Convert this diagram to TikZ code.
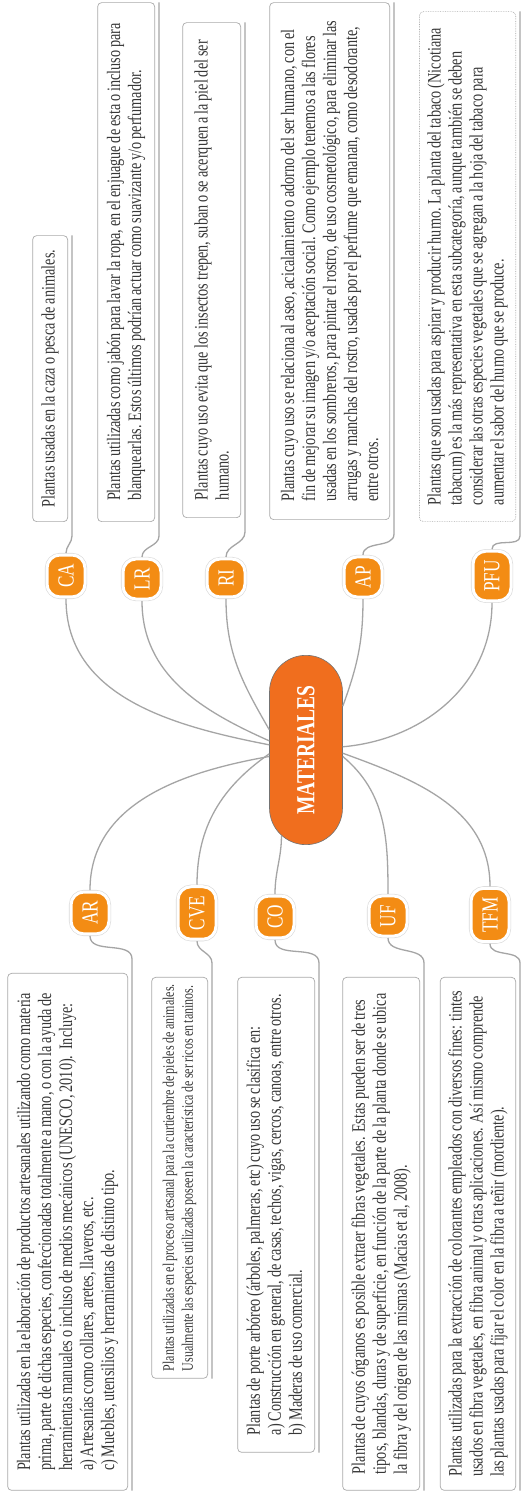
\documentclass[tikz,border=0pt]{standalone}
\usepackage{fontspec}
\setmainfont[FakeStretch=0.75, WordSpace=0.8]{Liberation Serif}
\usepackage{xcolor}
\definecolor{linkgray}{RGB}{165,165,165}
\definecolor{boxgray}{RGB}{170,170,170}
\definecolor{inkgray}{RGB}{55,55,55}
\definecolor{hubor}{RGB}{240,110,30}
\definecolor{tagor}{RGB}{243,140,20}
\usepackage{tikz}
\usetikzlibrary{positioning,shapes.misc}

\begin{document}
\begin{tikzpicture}[x=1pt, y=1pt]
        \tikzset{
          hub/.style={rounded rectangle, fill=hubor, draw=black!55, line width=0.6pt,
                      minimum width=196pt, minimum height=73pt, text=white,
                      font=\fontsize{26}{26}\selectfont\bfseries},
          tag/.style={rectangle, rounded corners=13pt, fill=tagor, draw=white, line width=3pt,
                      preaction={draw=black!15, line width=4.2pt},
                      minimum width=38pt, minimum height=38pt, inner xsep=9pt, inner ysep=5pt,
                      outer sep=2pt, text=white, font=\fontsize{23}{23}\selectfont},
          desc/.style={rectangle, rounded corners=4pt, draw=boxgray, fill=white, line width=0.7pt,
                       inner xsep=7pt, inner ysep=8pt, align=left, text=inkgray,
                       font=\fontsize{19}{21}\selectfont},
          link/.style={draw=linkgray, line width=1.3pt}
        }
        \begin{scope}[rotate=90, transform shape]
        \fill[white] (0,0) rectangle (1492,-522);
        \useasboundingbox (0,0) rectangle (1492,-522);
        % Central topic
        \node[hub] (M) at (742,-306) {MATERIALES};
        % Right branches
        \node[tag] (CA) at (916,-66) {CA};
        \node[tag] (LR) at (913,-142) {LR};
        \node[tag] (RI) at (914,-226) {RI};
        \node[tag] (AP) at (915,-363) {AP};
        \node[tag] (PFU) at (916,-492) {PFU};
        % Left branches
        \node[tag] (AR) at (579,-90) {AR};
        \node[tag] (CVE) at (579,-197) {CVE};
        \node[tag] (CO) at (575,-275) {CO};
        \node[tag] (UF) at (576,-388) {UF};
        \node[tag] (TFM) at (577,-490) {TFM};
        % Descriptions, right
        \node[desc, minimum width=286pt, minimum height=35pt, anchor=south west] (dCA) at (970,-68)
          {Plantas usadas en la caza o pesca de animales.};
        \node[desc, minimum width=519pt, minimum height=57pt, anchor=south west] (dLR) at (970,-155)
          {Plantas utilizadas como jabón para lavar la ropa, en el enjuague de esta o incluso para\\
           blanquearlas. Estos últimos podrían actuar como suavizante y/o perfumador.};
        \node[desc, minimum width=495pt, minimum height=58pt, anchor=south west] (dRI) at (974,-241)
          {Plantas cuyo uso evita que los insectos trepen, suban o se acerquen a la piel del ser\\
           humano.};
        \node[desc, minimum width=517pt, minimum height=120pt, anchor=south west] (dAP) at (972,-390)
          {Plantas cuyo uso se relaciona al aseo, acicalamiento o adorno del ser humano, con el\\
           fin de mejorar su imagen y/o aceptación social. Como ejemplo tenemos a las flores\\
           usadas en los sombreros, para pintar el rostro, de uso cosmetológico, para eliminar las\\
           arrugas y manchas del rostro, usadas por el perfume que emanan, como desodorante,\\
           entre otros.};
        \node[desc, densely dotted, minimum width=510pt, minimum height=96pt, anchor=south west] (dPFU) at (970,-516)
          {Plantas que son usadas para aspirar y producir humo. La planta del tabaco (Nicotiana\\
           tabacum) es la más representativa en esta subcategoría, aunque también se deben\\
           considerar las otras especies vegetales que se agregan a la hoja del tabaco para\\
           aumentar el sabor del humo que se produce.};
        % Descriptions, left
        \node[desc, minimum width=517pt, minimum height=120pt, anchor=south east] (dAR) at (519,-128)
          {Plantas utilizadas en la elaboración de productos artesanales utilizando como materia\\
           prima, parte de dichas especies, confeccionadas totalmente a mano, o con la ayuda de\\
           herramientas manuales o incluso de medios mecánicos (UNESCO, 2010).~~Incluye:\\
           a) Artesanías como collares, aretes, llaveros, etc.\\
           c) Muebles, utensilios y herramientas de distinto tipo.};
        \node[desc, minimum width=368pt, minimum height=56pt, anchor=south east,
              font=\fontsize{16}{19}\selectfont] (dCVE) at (515,-208)
          {Plantas utilizadas en el proceso artesanal para la curtiembre de pieles de animales.\\
           Usualmente las especies utilizadas poseen la característica de ser ricos en taninos.};
        \node[desc, minimum width=475pt, minimum height=77pt, anchor=south east] (dCO) at (515,-315)
          {Plantas de porte arbóreo (árboles, palmeras, etc) cuyo uso se clasifica en:\\
           a) Construcción en general, de casas, techos, vigas, cercos, canoas, entre otros.\\
           b) Maderas de uso comercial.};
        \node[desc, minimum width=513pt, minimum height=77pt, anchor=south east] (dUF) at (515,-420)
          {Plantas de cuyos órganos es posible extraer fibras vegetales. Estas pueden ser de tres\\
           tipos, blandas, duras y de superficie, en función de la parte de la planta donde se ubica\\
           la fibra y del origen de las mismas (Macias et al, 2008).};
        \node[desc, minimum width=513pt, minimum height=72pt, anchor=south east] (dTFM) at (515,-516)
          {Plantas utilizadas para la extracción de colorantes empleados con diversos fines: tintes\\
           usados en fibra vegetales, en fibra animal y otras aplicaciones. Así mismo comprende\\
           las plantas usadas para fijar el color en la fibra a teñir (mordiente).};
        % Hub to tags
        \foreach \t/\a/\o in {CA/82/79, LR/76/66, RI/61/30, AP/-40/-20, PFU/-85/-85} {
          \draw[link] (M.\a) to[out=\o, in=180] (\t);
        }
        \foreach \t/\a/\o in {AR/100/100, CVE/96/125, CO/164/180, UF/-100/230, TFM/-95/250} {
          \draw[link] (M.\a) to[out=\o, in=0] (\t);
        }
        % Tags to descriptions (underlines)
        \foreach \t in {CA,LR,RI,AP,PFU} {
          \draw[link] (\t) to[out=0, in=180] ([xshift=-14pt, yshift=-4pt]d\t.south west)
            -- ([yshift=-4pt]d\t.south east);
        }
        \foreach \t in {AR,CVE,CO,UF,TFM} {
          \draw[link] (\t) to[out=180, in=0] ([xshift=14pt, yshift=-4pt]d\t.south east)
            -- ([yshift=-4pt]d\t.south west);
        }
        \end{scope}
      \end{tikzpicture}
\end{document}
